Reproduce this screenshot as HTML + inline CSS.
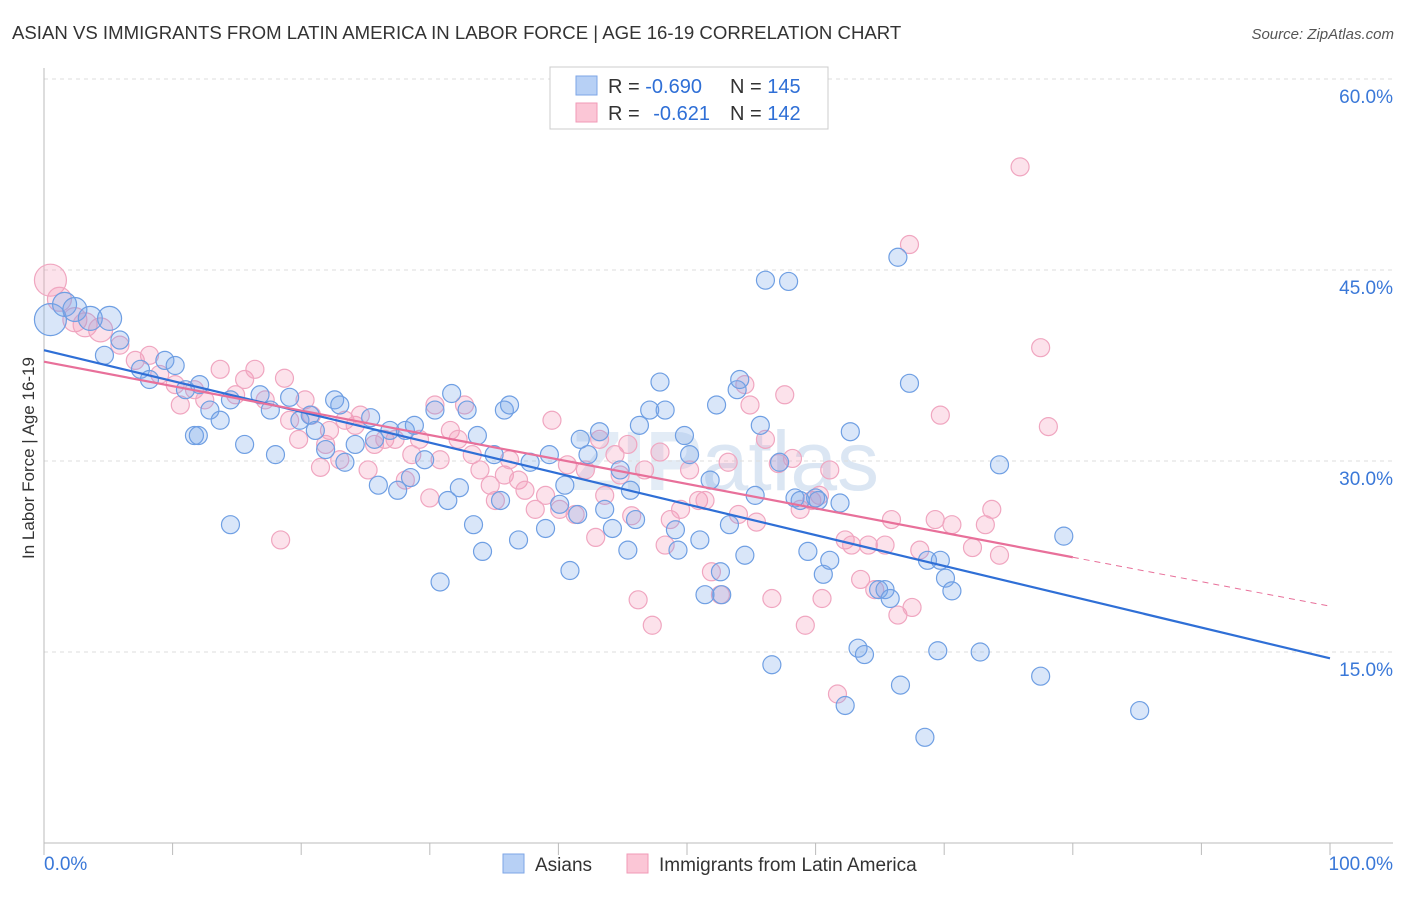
<!DOCTYPE html>
<html><head><meta charset="utf-8"><style>
body{margin:0;background:#fff;font-family:"Liberation Sans",sans-serif;}
svg text{font-family:"Liberation Sans",sans-serif;}
</style></head><body>
<svg id="chart" width="1406" height="892" xmlns="http://www.w3.org/2000/svg">
<text x="12" y="39" font-size="18.6" fill="#333">ASIAN VS IMMIGRANTS FROM LATIN AMERICA IN LABOR FORCE | AGE 16-19 CORRELATION CHART</text>
<text x="1394" y="39" font-size="15" fill="#555" text-anchor="end" font-style="italic">Source: ZipAtlas.com</text>
<text x="725" y="490" font-size="84" fill="#e3ecf6" text-anchor="middle" font-weight="bold">ZIP<tspan font-weight="normal" fill="#dbe6f3">atlas</tspan></text>
<g id="grid"></g>
<g id="axes"></g>
<g id="pts"></g>
<g id="trends"></g>
<text transform="translate(34,458) rotate(-90)" font-size="17" fill="#333" text-anchor="middle">In Labor Force | Age 16-19</text>
<g>
<rect x="550" y="67" width="278" height="62" fill="#fff" stroke="#ccc"/>
<rect x="576" y="76" width="21" height="19" fill="#b7d0f5" stroke="#7ea6e6"/>
<rect x="576" y="103" width="21" height="19" fill="#fbc6d6" stroke="#f09ab7"/>
<text x="608" y="93" font-size="20" fill="#333">R = <tspan fill="#2f6fd6">-0.690</tspan></text>
<text x="730" y="93" font-size="20" fill="#333">N = <tspan fill="#2f6fd6">145</tspan></text>
<text x="608" y="120" font-size="20" fill="#333">R = <tspan fill="#2f6fd6" dx="8">-0.621</tspan></text>
<text x="730" y="120" font-size="20" fill="#333">N = <tspan fill="#2f6fd6">142</tspan></text>
</g>
<g>
<rect x="503" y="854" width="21" height="19" fill="#b7d0f5" stroke="#7ea6e6"/>
<text x="535" y="871" font-size="19" fill="#333">Asians</text>
<rect x="627" y="854" width="21" height="19" fill="#fbc6d6" stroke="#f09ab7"/>
<text x="659" y="871" font-size="19" fill="#333">Immigrants from Latin America</text>
</g>
</svg>
<script>
const yTicks=[15,30,45,60];
const yTickLabels=["15.0%","30.0%","45.0%","60.0%"];
const xTickLabels=["0.0%","100.0%"];
const blueX=[0.5,1.6,2.4,3.6,5.1,5.9,4.7,7.5,8.2,9.4,10.2,11.0,12.1,12.9,11.7,13.7,14.5,15.6,16.8,17.6,18.0,19.1,19.9,20.7,21.1,21.9,22.6,23.0,23.4,24.2,25.4,25.7,26.0,26.9,27.5,28.1,28.5,28.8,29.6,30.4,30.8,31.4,31.7,32.3,32.9,33.4,33.7,34.1,35.0,35.5,35.8,36.2,36.9,37.8,39.0,39.3,40.1,40.5,40.9,41.5,41.7,42.3,43.2,43.6,44.2,44.8,45.4,45.6,46.0,46.3,47.1,47.9,48.3,49.1,49.3,49.8,50.2,51.0,51.4,51.8,52.3,52.6,52.7,53.3,53.9,54.1,54.5,55.3,55.7,56.1,56.6,57.2,57.9,58.4,58.8,59.4,60.0,60.2,60.6,61.1,61.9,62.3,62.7,63.3,63.8,64.9,65.4,65.8,66.4,66.6,67.3,68.5,68.7,69.7,70.1,70.6,69.5,72.8,74.3,77.5,79.3,85.2,14.5,12.0];
const blueY=[41.1,42.3,41.9,41.2,41.2,39.5,38.3,37.2,36.4,37.9,37.5,35.6,36.0,34.0,32.0,33.2,34.8,31.3,35.2,34.0,30.5,35.0,33.2,33.6,32.4,30.9,34.8,34.4,29.9,31.3,33.4,31.7,28.1,32.4,27.7,32.4,28.7,32.8,30.1,34.0,20.5,26.9,35.3,27.9,34.0,25.0,32.0,22.9,30.5,26.9,34.0,34.4,23.8,29.9,24.7,30.5,26.6,28.1,21.4,25.8,31.7,30.5,32.3,26.2,24.7,29.3,23.0,27.7,25.4,32.8,34.0,36.2,34.0,24.6,23.0,32.0,30.5,23.8,19.5,28.5,34.4,21.3,19.5,25.0,35.6,36.4,22.6,27.3,32.8,44.2,14.0,29.9,44.1,27.1,26.9,22.9,27.1,26.9,21.1,22.2,26.7,10.8,32.3,15.3,14.8,19.9,19.9,19.2,46.0,12.4,36.1,8.3,22.2,22.2,20.8,19.8,15.1,15.0,29.7,13.1,24.1,10.4,25.0,32.0];
const pinkX=[0.5,1.2,2.4,3.2,4.4,5.9,7.1,8.2,9.0,10.2,10.6,11.7,12.5,13.7,14.9,15.6,16.4,17.2,18.4,18.7,19.1,19.8,20.3,20.8,21.5,21.9,22.2,23.0,23.4,24.2,24.6,25.2,25.7,26.5,27.3,28.1,28.6,29.2,30.0,30.4,30.8,31.6,32.2,32.7,33.3,33.9,34.7,35.1,35.8,36.2,36.9,37.4,38.2,39.0,39.5,40.1,40.7,41.3,42.1,42.9,43.2,43.6,44.4,44.8,45.4,45.7,46.2,46.7,47.3,47.9,48.3,48.7,49.5,50.2,50.9,51.4,51.9,52.6,53.2,54.0,54.5,54.9,55.4,56.1,56.6,57.1,57.6,58.2,58.8,59.2,59.7,60.3,60.5,61.1,61.7,62.3,62.8,63.5,64.1,64.6,65.4,65.9,66.4,67.3,67.5,68.1,69.3,69.7,70.6,72.2,73.2,73.7,74.3,75.9,77.5,78.1];
const pinkY=[44.2,42.7,41.1,40.7,40.3,39.1,37.9,38.3,36.8,36.0,34.4,35.6,34.8,37.2,35.2,36.4,37.2,34.8,23.8,36.5,33.2,31.7,34.8,33.6,29.5,31.3,32.4,30.1,33.2,32.8,33.6,29.3,31.3,31.7,31.7,28.5,30.5,31.7,27.1,34.4,30.1,32.4,31.7,34.4,30.5,29.3,28.1,26.9,28.9,30.1,28.5,27.7,26.2,27.3,33.2,26.2,29.7,25.8,29.3,24.0,31.7,27.3,30.5,28.9,31.3,25.7,19.1,29.3,17.1,30.7,23.4,25.4,26.2,29.3,26.9,26.9,21.3,19.5,29.9,25.8,36.0,34.4,25.2,31.7,19.2,29.8,35.2,30.2,26.2,17.1,26.9,27.3,19.2,29.3,11.7,23.8,23.4,20.7,23.4,19.9,23.4,25.4,17.9,47.0,18.5,23.0,25.4,33.6,25.0,23.2,25.0,26.2,22.6,53.1,38.9,32.7];
const blueTrend=[38.7,14.5];
const pinkTrend=[37.8,18.6];
const pinkSolidEnd=80;

const NS="http://www.w3.org/2000/svg";
const X0=44,X1=1330,Y0=843,PX=191/15;
const sx=v=>X0+(X1-X0)*v/100;
const sy=v=>Y0-v*PX;
function mk(tag,attrs,parent){const e=document.createElementNS(NS,tag);for(const k in attrs)e.setAttribute(k,attrs[k]);parent.appendChild(e);return e;}
const grid=document.getElementById('grid'),axes=document.getElementById('axes'),pts=document.getElementById('pts'),tr=document.getElementById('trends');
yTicks.forEach((t,i)=>{
  const l=mk('line',{x1:X0,x2:1393,y1:sy(t),y2:sy(t),stroke:'#ddd','stroke-dasharray':'4,4'},grid);
  
  
  const tx=mk('text',{x:1393,y:sy(t)+24,'font-size':19,fill:'#3a78d8','text-anchor':'end'},axes);
  tx.textContent=yTickLabels[i];
  
  
});
const topLine=mk('line',{x1:X0,x2:1393,y1:79,y2:79,stroke:'#ddd','stroke-dasharray':'4,4'},grid);


const ya=mk('line',{x1:X0,x2:X0,y1:68,y2:Y0,stroke:'#bbb'},axes);


const xa=mk('line',{x1:X0,x2:1393,y1:Y0,y2:Y0,stroke:'#bbb'},axes);


for(let i=0;i<=10;i++){
  const t=mk('line',{x1:sx(i*10),x2:sx(i*10),y1:Y0,y2:Y0+12,stroke:'#bbb'},axes);
  
  
}
const xl0=mk('text',{x:44,y:870,'font-size':19,fill:'#3a78d8'},axes);xl0.textContent=xTickLabels[0];


const xl1=mk('text',{x:1393,y:870,'font-size':19,fill:'#3a78d8','text-anchor':'end'},axes);xl1.textContent=xTickLabels[1];


function radius(i){return i===0?16:(i<5?12:9);}
function drawSeries(xs,ys,fill,stroke,name){
  xs.forEach((x,i)=>{
    const c=mk('circle',{cx:sx(x),cy:sy(ys[i]),r:radius(i),fill:fill,stroke:stroke,'stroke-width':1.2},pts);
    
    
  });
}
drawSeries(pinkX,pinkY,'rgba(244,150,182,0.28)','#f0a6c0','point-latin-america');
drawSeries(blueX,blueY,'rgba(120,165,235,0.28)','#6f9fe3','point-asians');
const lineAt=(t,x)=>t[0]+(t[1]-t[0])*x/100;
const bl=mk('line',{x1:sx(0),y1:sy(blueTrend[0]),x2:sx(100),y2:sy(blueTrend[1]),stroke:'#2f6fd6','stroke-width':2.2},tr);


const pl=mk('line',{x1:sx(0),y1:sy(pinkTrend[0]),x2:sx(pinkSolidEnd),y2:sy(lineAt(pinkTrend,pinkSolidEnd)),stroke:'#e8709a','stroke-width':2.2},tr);


const pd=mk('line',{x1:sx(pinkSolidEnd),y1:sy(lineAt(pinkTrend,pinkSolidEnd)),x2:sx(100),y2:sy(pinkTrend[1]),stroke:'#e8709a','stroke-width':1,'stroke-dasharray':'6,5'},tr);


</script>
</body></html>
